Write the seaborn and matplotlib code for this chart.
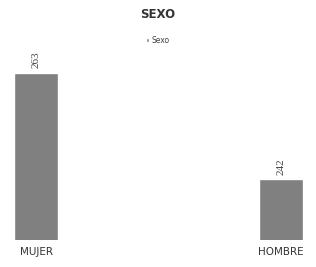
import pandas as pd
import matplotlib
matplotlib.use("Agg")
import matplotlib.pyplot as plt
import seaborn as sns

categorias = ["MUJER", "HOMBRE"]
valores = [263, 242]

df = pd.DataFrame({"categoria": categorias, "valor": valores})

sns.set_style("white")
fig = plt.figure(figsize=(3.16, 2.67), dpi=100)
ax = fig.add_axes([0.0, 0.101, 1.0, 0.73])
sns.barplot(data=df, x="categoria", y="valor", color="#808080", width=0.18,
            saturation=1, ax=ax, label="Sexo")
ax.set_xlim(-0.147, 1.143)
ax.set_ylim(230, 268.5)

for i, v in enumerate(valores):
    ax.text(i, v + 0.9, str(v), rotation=90, ha="center", va="bottom",
            fontsize=8, color="#444444", family="Liberation Serif")

sns.despine(left=True, bottom=True)
ax.set_yticks([])
ax.set_xlabel("")
ax.set_ylabel("")
ax.tick_params(axis="x", length=0, pad=5, labelsize=7.5, colors="#333333")
for t in ax.get_xticklabels():
    t.set_fontfamily("DejaVu Sans")

fig.text(0.5, 0.945, "SEXO", ha="center", va="center", fontsize=8.5,
         fontweight="bold", color="#333333", family="DejaVu Sans")
leg = ax.legend(loc="center", bbox_to_anchor=(0.5, 0.85), bbox_transform=fig.transFigure,
                frameon=False, fontsize=5.5, handlelength=0.4, handleheight=0.4,
                handletextpad=0.3)
for t in leg.get_texts():
    t.set_color("#444444")

fig.savefig("out.png", dpi=100)
